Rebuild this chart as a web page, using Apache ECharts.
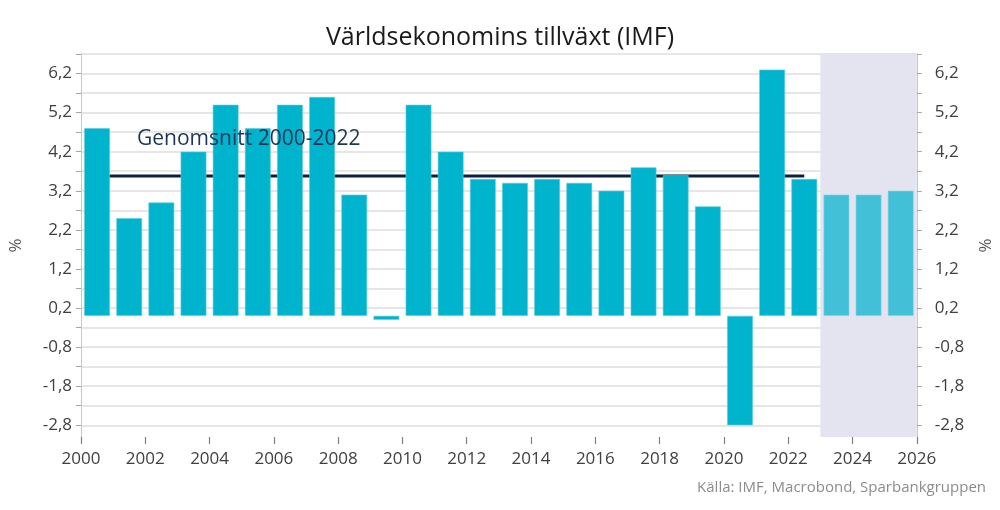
<!DOCTYPE html>
<html>
<head>
<meta charset="utf-8">
<script src="https://cdn.jsdelivr.net/npm/echarts@6/dist/echarts.min.js"></script>
<style>
html,body{margin:0;padding:0;background:#fff;}
#chart{width:1000px;height:510px;}
</style>
</head>
<body>
<div id="chart"></div>
<script>
const years = [2000,2001,2002,2003,2004,2005,2006,2007,2008,2009,2010,2011,2012,2013,2014,2015,2016,2017,2018,2019,2020,2021,2022,2023,2024,2025];
const growth = [4.8,2.5,2.9,4.2,5.4,4.8,5.4,5.6,3.1,-0.1,5.4,4.2,3.5,3.4,3.5,3.4,3.2,3.8,3.6,2.8,-2.8,6.3,3.5,3.1,3.1,3.2];
const forecastFrom = 2023;
const avgValue = 3.58;
const avgFrom = 2000;
const avgTo = 2022;
const yLabelValues = [-2.8,-1.8,-0.8,0.2,1.2,2.2,3.2,4.2,5.2,6.2];
const yTickValues = [-2.8,-2.3,-1.8,-1.3,-0.8,-0.3,0.2,0.7,1.2,1.7,2.2,2.7,3.2,3.7,4.2,4.7,5.2,5.7,6.2,6.7];
const xFirstYear = 2000;
const xLastYear = 2026;
const xStep = 2;

const FONT = "'Open Sans', 'Noto Sans', sans-serif";
const fmtY = v => v.toFixed(1).replace('.', ',');

const chart = echarts.init(document.getElementById('chart'), null, {renderer:'canvas'});

function yAxisDef(pos) {
  return {
    type: 'value',
    position: pos,
    min: -3.1,
    max: 6.7,
    name: '%',
    nameLocation: 'middle',
    nameGap: pos === 'left' ? 56 : 54,
    nameRotate: pos === 'left' ? 90 : -90,
    nameTextStyle: {color: '#595959', fontSize: 17, fontFamily: FONT},
    axisLine: {show: true, onZero: false, lineStyle: {color: '#c8c8c8', width: 1}},
    axisTick: {show: true, length: 5, customValues: yTickValues, lineStyle: {color: '#a6a6a6'}},
    axisLabel: {
      customValues: yLabelValues,
      formatter: fmtY,
      color: '#404040',
      fontSize: 17,
      fontFamily: FONT,
      margin: pos === 'left' ? 9 : 18
    },
    splitLine: {show: pos === 'left', lineStyle: {color: '#dedede', width: 1.5}}
  };
}

const option = {
  animation: false,
  backgroundColor: '#ffffff',
  title: {
    text: 'Världsekonomins tillväxt (IMF)',
    left: 'center',
    top: 20,
    textStyle: {color: '#1a1a1a', fontSize: 25, fontWeight: 'normal', fontFamily: FONT}
  },
  grid: {left: 78, right: 78, top: 54, bottom: 73, containLabel: false},
  xAxis: [
    {
      type: 'value',
      position: 'bottom',
      min: xFirstYear,
      max: xLastYear,
      interval: xStep,
      axisLine: {show: false, onZero: true, onZeroAxisIndex: 2},
      axisTick: {show: true, inside: false, length: 7, lineStyle: {color: '#7f7f7f', width: 1.2}},
      axisLabel: {
        formatter: v => String(v),
        color: '#404040',
        fontSize: 17,
        fontFamily: FONT,
        margin: 14
      },
      splitLine: {show: false}
    },
    {
      type: 'category',
      data: years.map(String),
      position: 'bottom',
      show: false,
      boundaryGap: true,
      axisLine: {show: false, onZero: true, onZeroAxisIndex: 2}
    }
  ],
  yAxis: [
    yAxisDef('left'),
    yAxisDef('right'),
    {type: 'value', show: false, min: 1, max: 2, position: 'left', splitLine: {show: false}}
  ],
  series: [
    {
      name: 'shade',
      type: 'line',
      xAxisIndex: 0,
      yAxisIndex: 0,
      z: -1,
      data: [],
      silent: true,
      markArea: {
        silent: true,
        itemStyle: {color: '#e4e4f0'},
        data: [[{xAxis: forecastFrom}, {xAxis: xLastYear}]]
      }
    },
    {
      name: 'Genomsnitt 2000-2022',
      type: 'line',
      xAxisIndex: 0,
      yAxisIndex: 0,
      z: 1,
      symbol: 'none',
      lineStyle: {color: '#0f1f40', width: 3},
      data: [[avgFrom + 0.5, avgValue], [avgTo + 0.5, avgValue]]
    },
    {
      name: 'Tillväxt',
      type: 'bar',
      xAxisIndex: 1,
      yAxisIndex: 0,
      z: 2,
      barCategoryGap: '20%',
      data: growth.map((v, i) => ({
        value: v,
        itemStyle: {
          color: years[i] >= forecastFrom ? '#42c0d8' : '#00b4ce',
          borderColor: years[i] >= forecastFrom ? '#7fd3e3' : '#5ccbdd',
          borderWidth: 0.6
        }
      }))
    }
  ],
  graphic: [
    {
      type: 'text',
      z: 100,
      left: 137,
      top: 129,
      style: {text: 'Genomsnitt 2000-2022', fill: '#1d3557', fontSize: 21, fontFamily: FONT}
    },
    {
      type: 'text',
      z: 100,
      right: 14,
      top: 480,
      style: {text: 'Källa: IMF, Macrobond, Sparbankgruppen', fill: '#8c8c8c', fontSize: 15, fontFamily: FONT}
    }
  ]
};
chart.setOption(option);
</script>
</body>
</html>
